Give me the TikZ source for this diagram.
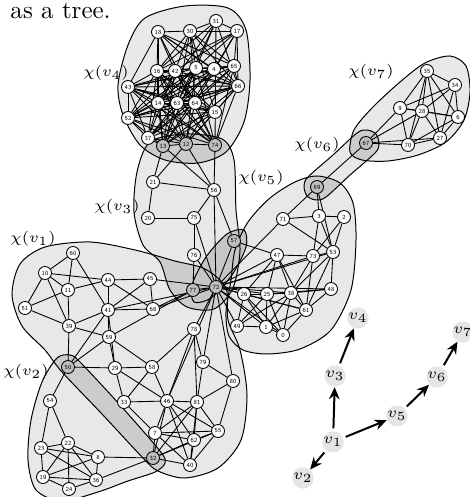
\documentclass[tikz,border=0pt]{standalone}
\usepackage{tikz}
\usetikzlibrary{arrows.meta}
\pgfdeclarelayer{bags}
\pgfdeclarelayer{edges}
\pgfsetlayers{bags,edges,main}
\tikzset{
  vtx/.style={circle, draw, fill=white, line width=0.35pt, inner sep=0pt, minimum size=5.2pt, font=\sffamily\fontsize{2.5}{3}\selectfont},
  shr/.style={vtx, fill=gray!50},
  lnk/.style={line width=0.35pt},
  bag/.style={fill=gray!18},
  meet/.style={fill=gray!40},
  rim/.style={line width=0.4pt},
  tnode/.style={circle, fill=gray!20, inner sep=0pt, minimum size=8pt, font=\fontsize{6}{7}\selectfont},
  tarr/.style={-{Stealth[length=4.8pt,width=4.2pt]}, line width=0.8pt, shorten <=1pt},
  chi/.style={font=\fontsize{6.5}{7}\selectfont, inner sep=0pt}
}

\begin{document}
\begin{tikzpicture}[x=0.4pt,y=-0.4pt]
\useasboundingbox (0,0) rectangle (470,497);
% bags of the decomposition
\def\bagone{plot[smooth cycle] coordinates {(12,295) (20,264) (45,247) (90,242) (135,250) (175,261) (205,269) (226,288) (228,320) (240,350) (247,395) (241,440) (218,468) (185,478) (158,471) (143,458) (102,414) (62,372) (45,350) (22,326)}}
\def\armone{plot[smooth cycle] coordinates {(244,230) (246,247) (232,275) (211,298) (194,302) (192,285) (206,257) (227,234)}}
\def\bagtwo{plot[smooth cycle] coordinates {(57,358) (70,355) (80,362) (120,405) (160,451) (165,463) (155,472) (128,481) (98,492) (62,501) (36,490) (28,460) (31,420) (42,382)}}
\def\bagthree{plot[smooth cycle] coordinates {(150,142) (185,134) (222,139) (234,160) (236,210) (240,250) (233,288) (214,309) (187,307) (170,290) (160,262) (143,245) (134,212) (137,172)}}
\def\bagfour{plot[smooth cycle] coordinates {(145,18) (185,6) (228,8) (246,30) (250,80) (244,122) (226,152) (198,163) (165,160) (140,145) (123,115) (118,85) (128,45)}}
\def\bagfive{plot[smooth cycle] coordinates {(317,176) (340,183) (353,203) (356,240) (351,290) (331,330) (300,349) (268,354) (243,350) (229,336) (226,312) (231,280) (235,250) (248,222) (270,198) (295,182)}}
\def\bagsix{plot[smooth cycle] coordinates {(308,177) (304,186) (307,196) (316,200) (326,197) (350,175) (375,153) (379,144) (376,134) (367,130) (357,133) (333,155)}}
\def\bagseven{plot[smooth cycle] coordinates {(350,152) (354,130) (372,108) (400,82) (425,63) (450,56) (466,66) (470,92) (464,120) (446,142) (418,155) (388,161) (362,160)}}

\node[anchor=base west, inner sep=0pt] (cap) at (10,19) {as a tree.};

\foreach \k/\x/\y in {18/158/32, 30/190/31, 31/216/21, 17/237/31, 16/157/71, 42/175/71, 5/196/68, 4/214/69, 65/234/66, 66/238/86, 43/128/87, 14/158/103, 63/177/103, 64/195/103, 15/215/112, 52/128/118, 37/148/138,
  21/153/182, 56/214/190, 20/148/218, 75/194/218, 76/194/255,
  60/73/253, 10/45/273, 11/68/290, 44/108/280, 45/150/279, 51/25/308, 41/108/310, 68/153/309, 39/69/326, 59/109/337, 29/115/368, 58/152/367, 78/194/329, 79/203/362, 80/233/381, 33/124/402, 46/167/401, 81/197/402, 7/155/433, 55/218/431, 62/194/440, 40/190/465,
  54/50/401, 22/68/443, 23/41/448, 8/98/457, 19/43/477, 36/96/480, 24/69/489,
  71/283/219, 3/319/216, 2/344/217, 53/333/252, 47/277/255, 73/313/256, 48/331/289, 26/244/294, 25/267/294, 38/291/293, 61/306/310, 49/237/326, 1/266/327, 0/283/335,
  35/427/71, 34/455/85, 9/400/108, 28/422/111, 6/458/117, 27/440/138, 70/408/145}
  \node[vtx] (n\k) at (\x,\y) {\k};
\foreach \k/\x/\y in {13/163/146, 12/186/144, 74/215/145, 57/234/241, 77/193/290, 72/216/287, 50/68/367, 32/153/458, 69/317/187, 67/366/143}
  \node[shr] (n\k) at (\x,\y) {\k};

\begin{pgfonlayer}{bags}
  \fill[bag] \bagone; \fill[bag] \bagtwo; \fill[bag] \bagthree; \fill[bag] \bagfour;
  \fill[bag] \bagfive; \fill[bag] \bagsix; \fill[bag] \bagseven;
  \begin{scope} \clip \bagone; \fill[meet] \bagtwo; \fill[meet] \bagthree; \end{scope}
  \begin{scope} \clip \bagfour; \fill[meet] \bagthree; \end{scope}
  \begin{scope} \clip \bagfive; \fill[meet] \bagsix; \end{scope}
  \begin{scope} \clip \bagseven; \fill[meet] \bagsix; \end{scope}
  \fill[gray!45] \armone;
  \draw[rim] \bagone; \draw[rim] \bagtwo; \draw[rim] \bagthree; \draw[rim] \bagfour;
  \draw[rim] \bagfive; \draw[rim] \bagsix; \draw[rim] \bagseven; \draw[rim] \armone;
\end{pgfonlayer}

\begin{pgfonlayer}{edges}
% chi(v4)
\foreach \a/\b in {18/30, 18/16, 18/43, 18/42, 18/5, 18/4, 18/65, 18/66, 18/64, 18/14,
  30/31, 30/17, 30/16, 30/42, 30/5, 30/65, 30/66, 30/15, 30/63, 30/64,
  31/17, 31/74, 31/16, 31/5, 31/66, 31/14, 31/63,
  17/65, 17/66, 17/4, 17/42, 17/16, 17/14, 17/64,
  16/42, 16/43, 16/52, 16/14, 16/63, 16/15, 16/66, 16/65, 16/37, 16/12, 16/13, 16/74, 16/64,
  42/5, 42/14, 42/64, 42/15, 42/37, 42/52, 42/13, 42/66, 42/74,
  5/4, 5/43, 5/14, 5/63, 5/52, 5/12, 5/74, 5/13, 5/66,
  4/65, 4/43, 4/63, 4/37, 4/13, 4/52,
  65/66, 65/43, 65/14, 65/64, 65/12, 65/74, 65/37,
  66/43, 66/14, 66/63, 66/64, 66/15, 66/52, 66/13, 66/12, 66/74,
  43/14, 43/52, 43/63, 43/64, 43/15, 43/37, 43/74, 43/12,
  14/63, 14/52, 14/37, 14/13, 14/12, 14/74, 14/15,
  63/64, 63/52, 63/37, 63/13, 63/12, 63/74, 63/15,
  64/15, 64/52, 64/37, 64/13, 64/12, 64/74,
  15/52, 15/13, 15/12, 15/37,
  52/37, 52/13, 52/12, 52/74, 37/13, 37/12, 13/12, 12/74}
  \draw[lnk] (n\a) -- (n\b);
% chi(v3)
\foreach \a/\b in {13/21, 12/21, 12/56, 13/56, 74/56, 21/56, 21/20, 20/75, 56/75, 56/72, 56/57,
  75/76, 75/72, 76/72, 76/77, 77/72, 57/72, 57/47}
  \draw[lnk] (n\a) -- (n\b);
% chi(v1)
\foreach \a/\b in {60/10, 60/11, 60/41, 10/11, 10/44, 10/51, 10/39, 11/44, 11/39, 51/11, 51/39,
  44/45, 44/41, 44/68, 45/68, 45/41, 45/72, 41/68, 41/72, 41/39, 41/59, 41/50, 41/29,
  39/59, 39/50, 59/50, 59/29, 59/58, 59/77, 50/29, 29/58, 29/33, 29/46, 58/33, 58/46, 58/78,
  68/72, 68/77, 78/72, 78/46, 78/79, 78/81, 72/79, 72/80, 72/46, 79/80, 79/81, 80/81, 80/55,
  81/46, 81/55, 81/62, 81/40, 81/7, 81/32, 46/33, 46/7, 46/55, 46/62, 46/40, 46/32,
  33/7, 7/55, 7/32, 7/40, 7/62, 55/62, 55/40, 55/32, 62/40, 62/32, 32/40}
  \draw[lnk] (n\a) -- (n\b);
% chi(v2)
\foreach \a/\b in {50/54, 54/23, 54/22, 23/22, 23/8, 23/19, 23/36, 22/8, 22/24, 22/19, 22/36,
  19/24, 19/8, 19/36, 24/36, 8/36, 8/32, 36/32}
  \draw[lnk] (n\a) -- (n\b);
% chi(v5)
\foreach \a/\b in {72/71, 71/69, 71/3, 71/53, 3/2, 3/53, 3/73, 69/3, 69/53, 2/53, 2/73, 53/73,
  47/73, 47/38, 47/61, 47/25, 47/26, 73/38, 73/61, 53/38, 53/61, 53/48, 48/38, 48/61, 48/25,
  38/25, 38/61, 38/1, 38/0, 38/49, 25/26, 25/49, 25/1, 25/0, 26/49, 26/1, 26/0,
  61/0, 61/1, 61/26, 49/1, 1/0, 72/47, 72/73, 72/53, 72/26, 72/25, 72/38, 72/48,
  72/61, 72/49, 72/1, 72/0}
  \draw[lnk] (n\a) -- (n\b);
% chi(v6), chi(v7)
\foreach \a/\b in {69/67, 67/9, 67/70, 67/28, 67/27, 35/9, 35/28, 35/70, 35/27, 35/34, 35/6,
  34/9, 34/28, 34/6, 34/27, 9/28, 9/70, 9/6, 28/6, 28/70, 28/27, 6/27, 6/70, 70/27}
  \draw[lnk] (n\a) -- (n\b);
\end{pgfonlayer}

\node[chi] (c4) at (106,73) {$\chi(v_4)$};
\node[chi] (c3) at (117,207) {$\chi(v_3)$};
\node[chi] (c1) at (33,239) {$\chi(v_1)$};
\node[chi] (c2) at (26,372) {$\chi(v_2)$};
\node[chi] (c5) at (261,178) {$\chi(v_5)$};
\node[chi] (c6) at (317,145) {$\chi(v_6)$};
\node[chi] (c7) at (371,72) {$\chi(v_7)$};

% the tree
\node[tnode] (v1) at (333,442) {$v_1$};
\node[tnode] (v2) at (303,478) {$v_2$};
\node[tnode] (v3) at (335,376) {$v_3$};
\node[tnode] (v4) at (358,318) {$v_4$};
\node[tnode] (v5) at (397,416) {$v_5$};
\node[tnode] (v6) at (437,377) {$v_6$};
\node[tnode] (v7) at (463,332) {$v_7$};
\draw[tarr] (v1) -- (v3);
\draw[tarr] (v3) -- (v4);
\draw[tarr] (v1) -- (v2);
\draw[tarr] (v1) -- (v5);
\draw[tarr] (v5) -- (v6);
\draw[tarr] (v6) -- (v7);
\end{tikzpicture}
\end{document}
